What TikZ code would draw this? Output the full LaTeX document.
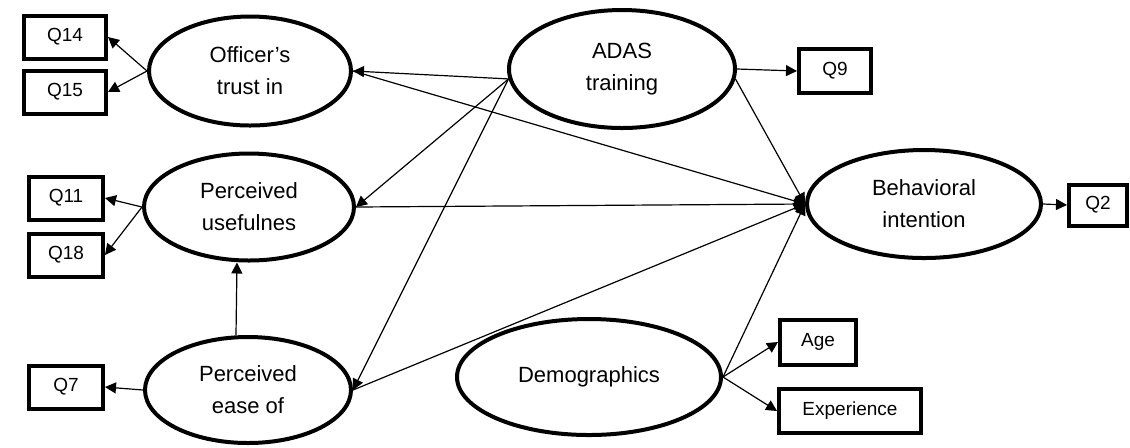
\documentclass[tikz,border=0pt]{standalone}
\usepackage{fontspec}
\setmainfont{Liberation Sans}
\usetikzlibrary{positioning, arrows.meta, shapes}
\usetikzlibrary{shapes.geometric}
\tikzstyle{latent} = [ellipse, draw, line width=2pt, inner sep=0pt,
align=center, font=\fontsize{11}{16}\selectfont]
\tikzstyle{qbox} = [rectangle, draw, line width=2pt, inner sep=0pt,
minimum width=37pt, minimum height=21.5pt, font=\fontsize{9.5}{11}\selectfont]
\tikzstyle{arrow} = [line width=0.6pt,-{Triangle[length=5.5pt,width=5.5pt]}]

\begin{document}
\begin{tikzpicture}[x=0.5pt, y=-0.5pt]
                \useasboundingbox (0,0) rectangle (1130,447);
                % constructs
                \node (trust) [latent, minimum width=101pt, minimum height=54.5pt] at (250,71) {Officer’s\\trust in};
                \node (adas) [latent, minimum width=113pt, minimum height=59pt] at (622,69) {ADAS\\training};
                \node (pu) [latent, minimum width=105pt, minimum height=53.5pt] at (249,207) {Perceived\\usefulnes};
                \node (pe) [latent, minimum width=103pt, minimum height=53pt] at (248,390) {Perceived\\ease of};
                \node (bi) [latent, minimum width=117pt, minimum height=54pt] at (924,204) {Behavioral\\intention};
                \node (demo) [latent, minimum width=132pt, minimum height=58pt] at (589,377) {Demographics};
                % items
                \node (q14) [qbox, minimum width=41pt] at (65,37) {Q14};
                \node (q15) [qbox, minimum width=41pt] at (65,92) {Q15};
                \node (q11) [qbox] at (66,198) {Q11};
                \node (q18) [qbox] at (66,255) {Q18};
                \node (q7) [qbox] at (66,387) {Q7};
                \node (q9) [qbox, minimum width=36pt, minimum height=22pt] at (835,71) {Q9};
                \node (q2) [qbox, minimum width=29pt, minimum height=20.5pt] at (1098,205) {Q2};
                \node (age) [qbox, minimum width=38pt, minimum height=22.5pt] at (818,342) {Age};
                \node (exp) [qbox, minimum width=71pt, minimum height=22pt] at (850,411) {Experience};
                % measurement arrows
                \draw [arrow] (trust.west) -- (q14.east);
                \draw [arrow] (trust.west) -- (q15.east);
                \draw [arrow] (pu.west) -- (q11.east);
                \draw [arrow] (pu.west) -- (q18.east);
                \draw [arrow] (pe.west) -- (q7.east);
                \draw [arrow] (adas.east) -- (q9.west);
                \draw [arrow] (bi.east) -- (q2.west);
                \draw [arrow] (demo.east) -- (age.west);
                \draw [arrow] (demo.east) -- (exp.west);
                % structural arrows
                \draw [arrow] (adas.185) -- (trust.east);
                \draw [arrow] (adas.185) -- (pu.east);
                \draw [arrow] (adas.185) -- (pe.east);
                \draw [arrow] (adas.-5) -- (bi.west);
                \draw [arrow] (trust.east) -- (bi.west);
                \draw [arrow] (pu.east) -- (bi.west);
                \draw [arrow] (pe.east) -- (bi.west);
                \draw [arrow] (demo.east) -- (bi.west);
                \draw [arrow] ([xshift=-6pt]pe.north) -- ([xshift=-6pt]pu.south);
\end{tikzpicture}
\end{document}
